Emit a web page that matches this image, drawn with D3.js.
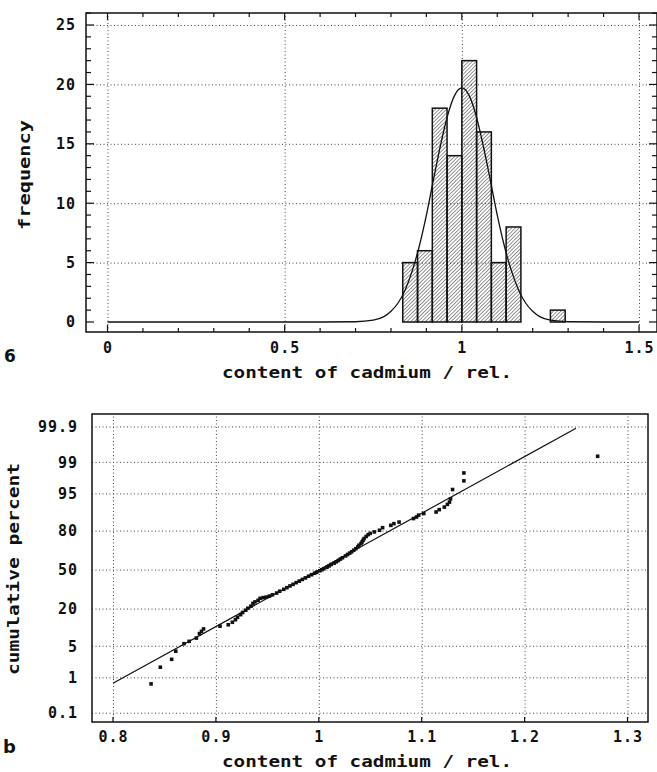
<!DOCTYPE html>
<html>
<head>
<meta charset="utf-8">
<script src="https://cdn.jsdelivr.net/npm/d3@7"></script>
<style>
  body { margin: 0; background: #fff; }
  svg { display: block; font-family: "DejaVu Sans Mono", monospace; font-weight: bold; }
  .grid line { stroke: #444; stroke-width: 1; stroke-dasharray: 1 2.5; }
  .grid .domain { display: none; }
  .lbl .domain, .lbl line { display: none; }
  .lbl text { font-family: "DejaVu Sans Mono", monospace; font-weight: bold; font-size: 15px; letter-spacing: 1px; fill: #111; }
</style>
</head>
<body>
<div id="app"></div>
<script>
// panel a: histogram
const binLo = [0.8333, 0.875, 0.9167, 0.9583, 1.0, 1.0417, 1.0833, 1.125, 1.25];
const binHi = [0.875, 0.9167, 0.9583, 1.0, 1.0417, 1.0833, 1.125, 1.1667, 1.2917];
const binCount = [5, 6, 18, 14, 22, 16, 5, 8, 1];

// fitted normal curve
const fitX = [0, 0.6, 0.7, 0.75, 0.78, 0.8, 0.82, 0.84, 0.86, 0.88, 0.9, 0.92, 0.94, 0.96, 0.98, 1.0,
  1.02, 1.04, 1.06, 1.08, 1.1, 1.12, 1.14, 1.16, 1.18, 1.2, 1.22, 1.25, 1.3, 1.4, 1.5];
const fitY = [0, 0, 0.02, 0.15, 0.45, 0.9, 1.6, 2.7, 4.3, 6.4, 9.0, 12.0, 14.9, 17.4, 19.1, 19.7,
  19.1, 17.4, 14.9, 12.0, 9.0, 6.4, 4.3, 2.7, 1.6, 0.9, 0.45, 0.15, 0.02, 0, 0];

const xTicksA = [0, 0.5, 1, 1.5];
const yTicksA = [0, 5, 10, 15, 20, 25];

// panel b: normal probability plot
const probX = [0.837, 0.846, 0.857, 0.861, 0.869, 0.874, 0.881, 0.884, 0.886, 0.888,
  0.904, 0.912, 0.916, 0.919, 0.921, 0.924, 0.926, 0.929, 0.931, 0.934,
  0.936, 0.938, 0.941, 0.943, 0.946, 0.949, 0.952, 0.955, 0.959, 0.962,
  0.966, 0.969, 0.972, 0.975, 0.978, 0.981, 0.984, 0.987, 0.990, 0.993,
  0.996, 0.998, 1.001, 1.003, 1.005, 1.008, 1.010, 1.012, 1.015, 1.017,
  1.019, 1.021, 1.023, 1.026, 1.028, 1.030, 1.032, 1.034, 1.036, 1.038,
  1.039, 1.041, 1.042, 1.043, 1.044, 1.046, 1.048, 1.050, 1.054, 1.059,
  1.062, 1.070, 1.073, 1.078, 1.092, 1.095, 1.097, 1.102, 1.114, 1.117,
  1.122, 1.125, 1.127, 1.128, 1.130, 1.141, 1.141, 1.271];
const probP = [0.7, 1.8, 2.7, 4.0, 5.6, 6.2, 7.1, 8.5, 9.3, 10.2,
  11.3, 11.9, 13.0, 14.2, 15.4, 16.8, 18.0, 19.3, 20.5, 21.8,
  23.6, 24.6, 25.7, 27.1, 27.6, 28.0, 28.7, 29.7, 31.0, 32.4,
  33.9, 35.2, 36.6, 37.9, 39.3, 40.6, 42.0, 43.3, 44.7, 46.0,
  47.3, 48.2, 49.4, 50.3, 51.2, 52.5, 53.6, 54.8, 56.0, 57.1,
  58.2, 59.4, 60.5, 62.0, 63.2, 64.3, 65.4, 66.6, 67.8, 69.2,
  70.4, 71.6, 72.8, 74.0, 75.2, 76.6, 77.8, 78.6, 79.5, 80.5,
  82.0, 83.3, 84.2, 85.0, 86.7, 87.4, 88.2, 88.9, 89.5, 90.4,
  91.3, 92.2, 92.9, 93.8, 95.9, 97.3, 98.2, 99.3];

// fitted straight line (percent at the two ends)
const lineX = [0.8, 1.25];
const lineP = [0.73, 99.89];

const xTicksB = [0.8, 0.9, 1.0, 1.1, 1.2, 1.3];
const pTicks = [0.1, 1, 5, 20, 50, 80, 95, 99, 99.9];

// inverse normal cdf (Acklam) for the probability axis
function probit(p) {
  const a = [-39.6968302866538, 220.946098424521, -275.928510446969, 138.357751867269, -30.6647980661472, 2.50662827745924];
  const b = [-54.4760987982241, 161.585836858041, -155.698979859887, 66.8013118877197, -13.2806815528857];
  const c = [-0.00778489400243029, -0.322396458041136, -2.40075827716184, -2.54973253934373, 4.37466414146497, 2.93816398269878];
  const d = [0.00778469570904146, 0.32246712907004, 2.445134137143, 3.75440866190742];
  const pl = 0.02425;
  if (p < pl) {
    const q = Math.sqrt(-2 * Math.log(p));
    return (((((c[0]*q+c[1])*q+c[2])*q+c[3])*q+c[4])*q+c[5]) / ((((d[0]*q+d[1])*q+d[2])*q+d[3])*q+1);
  }
  if (p > 1 - pl) {
    const q = Math.sqrt(-2 * Math.log(1 - p));
    return -(((((c[0]*q+c[1])*q+c[2])*q+c[3])*q+c[4])*q+c[5]) / ((((d[0]*q+d[1])*q+d[2])*q+d[3])*q+1);
  }
  const q = p - 0.5, r = q * q;
  return (((((a[0]*r+a[1])*r+a[2])*r+a[3])*r+a[4])*r+a[5])*q / (((((b[0]*r+b[1])*r+b[2])*r+b[3])*r+b[4])*r+1);
}

const width = 657, height = 772;
const svg = d3.select("#app").append("svg")
  .attr("width", width).attr("height", height);

const defs = svg.append("defs");
const pat = defs.append("pattern")
  .attr("id", "hatch")
  .attr("patternUnits", "userSpaceOnUse")
  .attr("width", 2.6).attr("height", 2.6)
  .attr("patternTransform", "rotate(45)");
pat.append("line").attr("x1", 0).attr("y1", 0).attr("x2", 0).attr("y2", 2.6)
  .attr("stroke", "#111").attr("stroke-width", 0.9);

function title(txt, x, y, len, rotate) {
  const t = svg.append("text")
    .attr("text-anchor", "middle")
    .attr("font-size", 15)
    .attr("fill", "#111")
    .attr("textLength", len)
    .attr("lengthAdjust", "spacingAndGlyphs")
    .text(txt);
  if (rotate) t.attr("transform", `translate(${x},${y}) rotate(-90)`);
  else t.attr("x", x).attr("y", y);
}

// ---------- panel a ----------
const A = { left: 86, right: 657, top: 13, bottom: 332 };
const xA = d3.scaleLinear().domain([0, 1.5]).range([107.5, 639]);
const yA = d3.scaleLinear().domain([0, 25]).range([322, 25]);

const gA = svg.append("g");

gA.append("g").attr("class", "grid")
  .attr("transform", `translate(0,${A.bottom})`)
  .call(d3.axisBottom(xA).tickValues(xTicksA).tickSize(-(A.bottom - A.top)).tickFormat(""));
gA.append("g").attr("class", "grid")
  .attr("transform", `translate(${A.left},0)`)
  .call(d3.axisLeft(yA).tickValues(yTicksA.filter(v => v > 0)).tickSize(-(A.right - A.left)).tickFormat(""));

gA.selectAll("rect.bar")
  .data(binCount)
  .enter()
  .append("rect")
  .attr("class", "bar")
  .attr("x", (d, i) => xA(binLo[i]))
  .attr("y", d => yA(d))
  .attr("width", (d, i) => xA(binHi[i]) - xA(binLo[i]))
  .attr("height", d => yA(0) - yA(d))
  .attr("fill", "url(#hatch)")
  .attr("stroke", "#111")
  .attr("stroke-width", 1.5);

gA.append("path")
  .datum(fitX.map((x, i) => [x, fitY[i]]))
  .attr("fill", "none")
  .attr("stroke", "#111")
  .attr("stroke-width", 1.3)
  .attr("d", d3.line().x(d => xA(d[0])).y(d => yA(d[1])).curve(d3.curveMonotoneX));

// frame with inward ticks
gA.append("rect")
  .attr("x", A.left).attr("y", A.top)
  .attr("width", A.right - A.left).attr("height", A.bottom - A.top)
  .attr("fill", "none").attr("stroke", "#111").attr("stroke-width", 1.5);

const minorX = d3.range(0, 16).map(i => i / 10);
const minorY = d3.range(0, 27);
const tickG = gA.append("g").attr("stroke", "#111").attr("stroke-width", 1.2);
minorX.forEach(v => {
  const major = Math.abs(v * 2 - Math.round(v * 2)) < 1e-6;
  const len = major ? 7 : 4;
  tickG.append("line").attr("x1", xA(v)).attr("x2", xA(v)).attr("y1", A.top).attr("y2", A.top + len);
  tickG.append("line").attr("x1", xA(v)).attr("x2", xA(v)).attr("y1", A.bottom).attr("y2", A.bottom - len);
});
minorY.forEach(v => {
  const len = v % 5 === 0 ? 8 : 5;
  if (yA(v) < A.top) return;
  tickG.append("line").attr("x1", A.left).attr("x2", A.left + len).attr("y1", yA(v)).attr("y2", yA(v));
  tickG.append("line").attr("x1", A.right).attr("x2", A.right - len).attr("y1", yA(v)).attr("y2", yA(v));
});

gA.append("g").attr("class", "lbl")
  .attr("transform", `translate(0,${A.bottom})`)
  .call(d3.axisBottom(xA).tickValues(xTicksA).tickSize(0).tickPadding(10).tickFormat(d3.format("")));
gA.append("g").attr("class", "lbl")
  .attr("transform", `translate(${A.left},0)`)
  .call(d3.axisLeft(yA).tickValues(yTicksA).tickSize(0).tickPadding(10));

title("frequency", 30, 175, 110, true);
title("content of cadmium / rel.", 367, 378, 290, false);
svg.append("text").attr("x", 4).attr("y", 362).attr("font-size", 17).attr("font-weight", "bold")
  .attr("font-family", "DejaVu Sans, sans-serif").attr("fill", "#111").text("6");

// ---------- panel b ----------
const B = { left: 92, right: 648, top: 414, bottom: 722 };
const xB = d3.scaleLinear().domain([0.8, 1.3]).range([113, 627.5]);
const zB = d3.scaleLinear().domain([-3.28, 3.37]).range([B.bottom, B.top]);
const yB = p => zB(probit(p / 100));

const gB = svg.append("g");

gB.append("g").attr("class", "grid")
  .attr("transform", `translate(0,${B.bottom})`)
  .call(d3.axisBottom(xB).tickValues(xTicksB).tickSize(-(B.bottom - B.top)).tickFormat(""));

gB.selectAll("line.hgrid")
  .data(pTicks)
  .enter()
  .append("line")
  .attr("class", "hgrid")
  .attr("x1", B.left).attr("x2", B.right)
  .attr("y1", d => yB(d)).attr("y2", d => yB(d))
  .attr("stroke", "#444").attr("stroke-width", 1).attr("stroke-dasharray", "1 2.5");

gB.append("path")
  .datum(lineX.map((x, i) => [x, lineP[i]]))
  .attr("fill", "none")
  .attr("stroke", "#111")
  .attr("stroke-width", 1.2)
  .attr("d", d3.line().x(d => xB(d[0])).y(d => yB(d[1])));

gB.selectAll("rect.pt")
  .data(probX)
  .enter()
  .append("rect")
  .attr("class", "pt")
  .attr("x", d => xB(d) - 1.8)
  .attr("y", (d, i) => yB(probP[i]) - 1.8)
  .attr("width", 3.6).attr("height", 3.6)
  .attr("fill", "#111");

gB.append("rect")
  .attr("x", B.left).attr("y", B.top)
  .attr("width", B.right - B.left).attr("height", B.bottom - B.top)
  .attr("fill", "none").attr("stroke", "#111").attr("stroke-width", 1.5);

gB.append("g").attr("stroke", "#111").attr("stroke-width", 1.2)
  .selectAll("line")
  .data(xTicksB)
  .enter()
  .append("line")
  .attr("x1", d => xB(d)).attr("x2", d => xB(d))
  .attr("y1", B.bottom).attr("y2", B.bottom - 5);

gB.append("g").attr("class", "lbl")
  .attr("transform", `translate(0,${B.bottom})`)
  .call(d3.axisBottom(xB).tickValues(xTicksB).tickSize(0).tickPadding(9).tickFormat(d3.format("")));

gB.append("g").attr("class", "lbl")
  .selectAll("text")
  .data(pTicks)
  .enter()
  .append("text")
  .attr("x", 78)
  .attr("y", d => yB(d))
  .attr("dy", "0.35em")
  .attr("text-anchor", "end")
  .text(d => d);

title("cumulative percent", 19, 569, 212, true);
title("content of cadmium / rel.", 367, 767, 290, false);
svg.append("text").attr("x", 3).attr("y", 753).attr("font-size", 18)
  .attr("font-family", "DejaVu Sans, sans-serif").attr("font-weight", "bold").attr("fill", "#111").text("b");
</script>
</body>
</html>
